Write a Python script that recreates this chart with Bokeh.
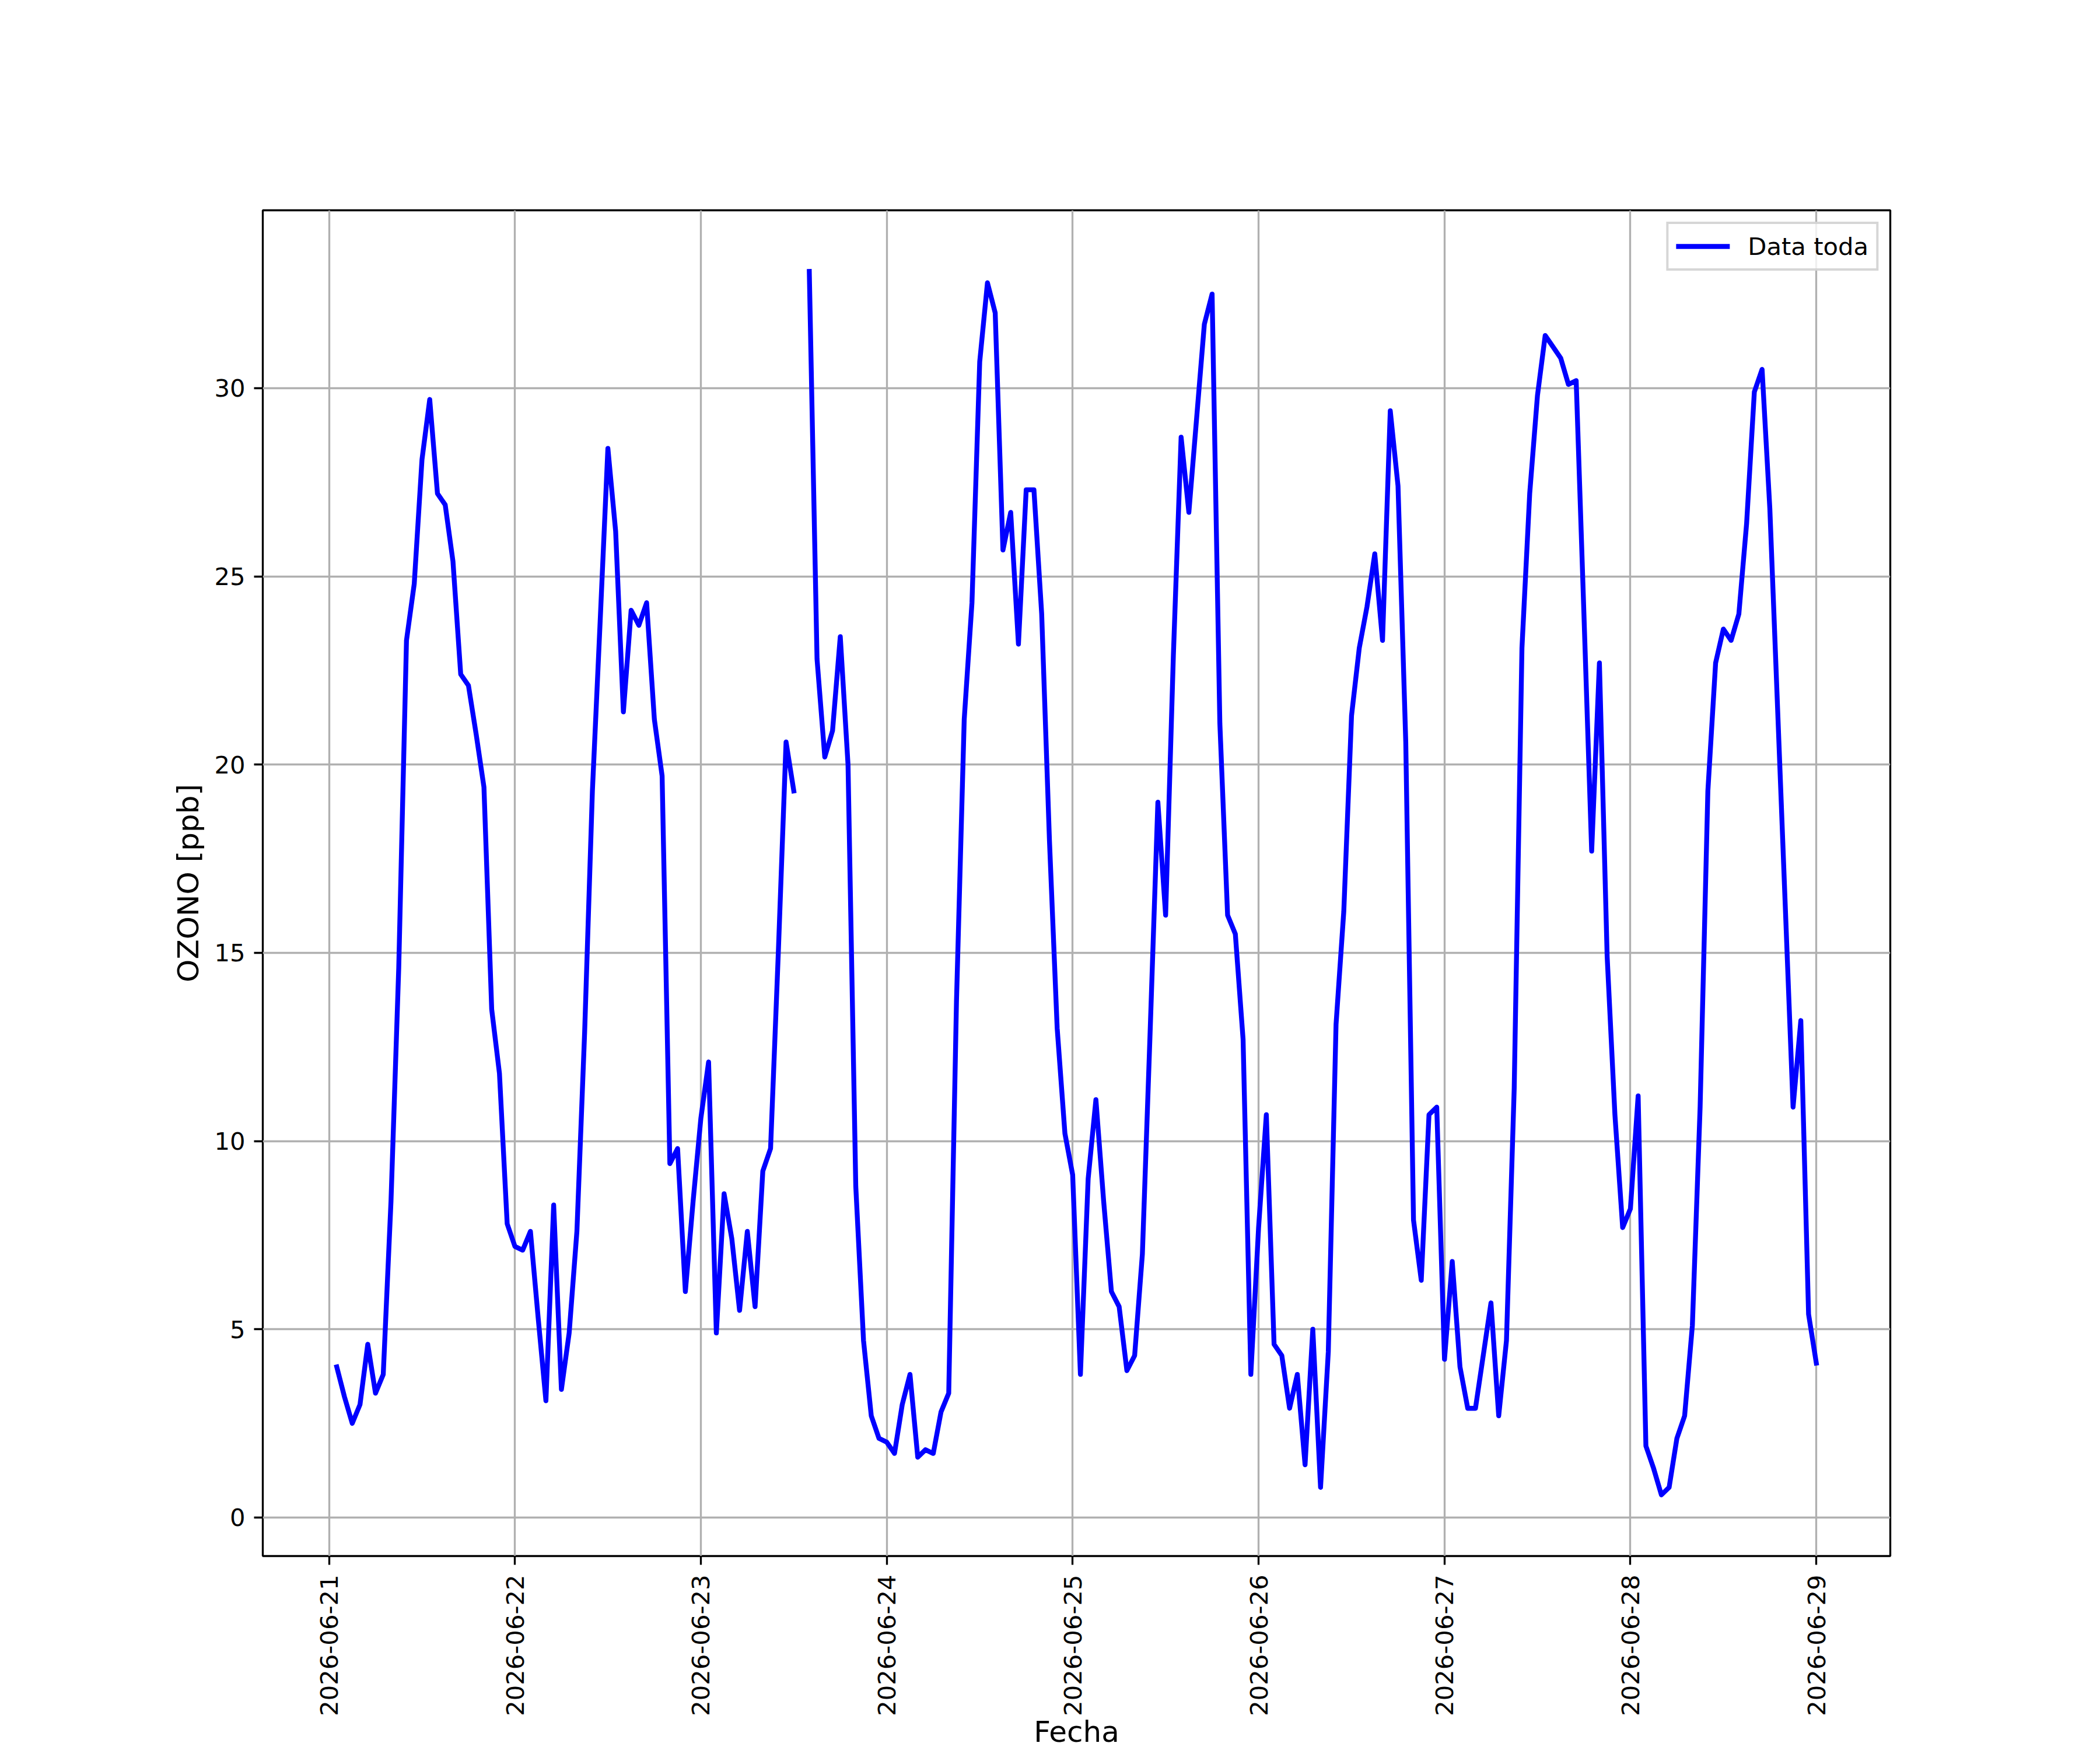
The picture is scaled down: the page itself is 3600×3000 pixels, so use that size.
import math
import numpy as np
import pandas as pd
from bokeh.plotting import figure
from bokeh.models import Range1d, FixedTicker, DatetimeTickFormatter
from bokeh.embed import file_html
from bokeh.resources import INLINE

nan = float("nan")

# ---------------- data (hourly ozone, ppb) ----------------
start_time = "2026-06-21 01:00"
d0621 = [4.0, 3.2, 2.5, 3.0, 4.6, 3.3, 3.8, 8.4, 14.6, 23.3, 24.8, 28.1,
         29.7, 27.2, 26.9, 25.4, 22.4, 22.1, 20.8, 19.4, 13.5, 11.8, 7.8]
d0622 = [7.2, 7.1, 7.6, 5.3, 3.1, 8.3, 3.4, 4.9, 7.6, 12.9, 19.3, 23.8,
         28.4, 26.2, 21.4, 24.1, 23.7, 24.3, 21.2, 19.7, 9.4, 9.8, 6.0, 8.4]
d0623 = [10.6, 12.1, 4.9, 8.6, 7.4, 5.5, 7.6, 5.6, 9.2, 9.8, 15.0, 20.6,
         19.3, nan, 33.1, 22.8, 20.2, 20.9, 23.4, 20.0, 8.8, 4.7, 2.7, 2.1]
d0624 = [2.0, 1.7, 3.0, 3.8, 1.6, 1.8, 1.7, 2.8, 3.3, 13.7, 21.2, 24.3,
         30.7, 32.8, 32.0, 25.7, 26.7, 23.2, 27.3, 27.3, 24.0, 18.0, 13.0, 10.2]
d0625 = [9.1, 3.8, 9.0, 11.1, 8.4, 6.0, 5.6, 3.9, 4.3, 7.0, 12.9, 19.0,
         16.0, 22.9, 28.7, 26.7, 29.2, 31.7, 32.5, 21.1, 16.0, 15.5, 12.7, 3.8]
d0626 = [7.7, 10.7, 4.6, 4.3, 2.9, 3.8, 1.4, 5.0, 0.8, 4.4, 13.1, 16.1,
         21.3, 23.1, 24.2, 25.6, 23.3, 29.4, 27.4, 20.6, 7.9, 6.3, 10.7, 10.9]
d0627 = [4.2, 6.8, 4.0, 2.9, 2.9, 4.3, 5.7, 2.7, 4.7, 11.4, 23.1, 27.2,
         29.8, 31.4, 31.1, 30.8, 30.1, 30.2, 24.0, 17.7, 22.7, 14.9, 10.7, 7.7]
d0628 = [8.2, 11.2, 1.9, 1.3, 0.6, 0.8, 2.1, 2.7, 5.1, 10.9, 19.3, 22.7,
         23.6, 23.3, 24.0, 26.4, 29.9, 30.5, 26.8, 21.5, 16.2, 10.9, 13.2, 5.4]
d0629 = [4.1]

tick_labels = ["2026-06-21", "2026-06-22", "2026-06-23", "2026-06-24",
               "2026-06-25", "2026-06-26", "2026-06-27", "2026-06-28",
               "2026-06-29"]
y_ticks = [0, 5, 10, 15, 20, 25, 30]
series_label = "Data toda"
x_label = "Fecha"
y_label = "OZONO [ppb]"

ozone = d0621 + d0622 + d0623 + d0624 + d0625 + d0626 + d0627 + d0628 + d0629
times = pd.date_range(start_time, periods=len(ozone), freq="h")
vals = np.array(ozone, dtype=float)

# ---------------- ranges (matplotlib-like 5% margins) ----------------
t_min, t_max = times[0], times[-1]
tpad = (t_max - t_min) * 0.05
ymin, ymax = np.nanmin(vals), np.nanmax(vals)
ypad = (ymax - ymin) * 0.05

FONT = "DejaVu Sans"
TICK_PX = "41.7px"
LAB_PX = "50px"
LW = 3.33

p = figure(
    x_axis_type="datetime",
    width=3600, height=3000,
    min_border_left=450, min_border_right=360,
    min_border_top=360, min_border_bottom=330,
    x_range=Range1d(t_min - tpad, t_max + tpad),
    y_range=Range1d(ymin - ypad, ymax + ypad),
    output_backend="svg", toolbar_location=None,
    background_fill_color="white", border_fill_color="white",
)

p.line(x=times, y=vals, line_color="#0000ff", line_width=8.33,
       line_join="round", line_cap="square", legend_label=series_label)

# ---------------- axes ----------------
p.xaxis.ticker = FixedTicker(ticks=[pd.Timestamp(s).value / 1e6 for s in tick_labels])
p.xaxis.formatter = DatetimeTickFormatter(
    days="%Y-%m-%d", months="%Y-%m-%d", hours="%Y-%m-%d",
    hourmin="%Y-%m-%d", minutes="%Y-%m-%d", years="%Y-%m-%d")
p.yaxis.ticker = FixedTicker(ticks=y_ticks)
p.xaxis.major_label_orientation = math.pi / 2

p.xaxis.axis_label = x_label
p.yaxis.axis_label = y_label

for ax in (p.xaxis[0], p.yaxis[0]):
    ax.major_label_text_font = FONT
    ax.major_label_text_font_size = TICK_PX
    ax.major_label_text_color = "black"
    ax.major_tick_out = 15
    ax.major_tick_in = 0
    ax.major_tick_line_width = LW
    ax.major_tick_line_color = "black"
    ax.minor_tick_line_color = None
    ax.axis_line_color = None
    ax.axis_label_text_font = FONT
    ax.axis_label_text_font_size = LAB_PX
    ax.axis_label_text_font_style = "normal"
    ax.axis_label_text_color = "black"
p.yaxis.major_label_standoff = 15
p.xaxis.major_label_standoff = 17
p.yaxis.axis_label_standoff = 12
p.xaxis.axis_label_standoff = -5

p.grid.grid_line_color = "#b0b0b0"
p.grid.grid_line_width = LW
p.outline_line_color = "black"
p.outline_line_width = LW
p.outline_line_alpha = 1.0

# ---------------- legend ----------------
lg = p.legend[0]
lg.location = "top_right"
lg.margin = 20
lg.padding = 13
lg.spacing = 0
lg.glyph_width = 92
lg.glyph_height = 50
lg.label_height = 50
lg.label_standoff = 31
lg.label_text_font = FONT
lg.label_text_font_size = TICK_PX
lg.label_text_color = "black"
lg.border_line_color = "#cccccc"
lg.border_line_alpha = 0.8
lg.border_line_width = 4
lg.background_fill_color = "white"
lg.background_fill_alpha = 0.8

open("out.html", "w").write(file_html(p, INLINE))
